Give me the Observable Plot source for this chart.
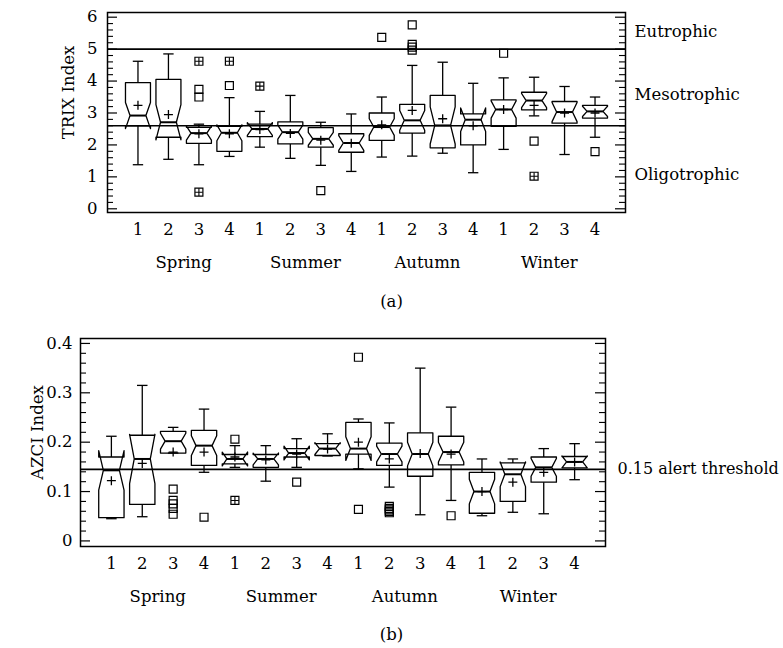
<!DOCTYPE html>
<html><head><meta charset="utf-8">
<script src="https://cdn.jsdelivr.net/npm/d3@7"></script>
<script src="https://cdn.jsdelivr.net/npm/@observablehq/plot@0.6"></script>
<style>
body{margin:0;background:#fff;}
#wrap{position:relative;width:783px;height:648px;font-family:"DejaVu Serif",serif;}
.cap{position:absolute;left:0;width:783px;text-align:center;font-size:16.5px;line-height:20px;color:#000;}
#wrap svg{position:absolute;left:0;}
</style></head><body><div id="wrap"></div>
<script>
// categories / tick labels
const seasons = ["Spring","Summer","Autumn","Winter"];
const sites = ["1","2","3","4"];

// (a) TRIX index, 16 boxes (season x site)
const trixLow   = [1.38,1.55,1.38,1.64,1.93,1.58,1.36,1.17,1.62,1.65,1.74,1.13,1.86,2.91,1.70,2.24];
const trixQ1    = [2.60,2.24,2.05,1.80,2.26,2.03,1.93,1.77,2.14,2.37,1.91,2.00,2.58,3.10,2.68,2.84];
const trixMed   = [2.92,2.71,2.37,2.38,2.50,2.40,2.19,2.06,2.56,2.77,2.61,2.79,3.11,3.39,3.03,3.05];
const trixQ3    = [3.95,4.05,2.55,2.58,2.65,2.72,2.54,2.35,3.00,3.27,3.55,2.97,3.41,3.65,3.36,3.24];
const trixHigh  = [4.62,4.85,2.65,3.48,3.05,3.55,2.71,2.97,3.50,4.49,4.59,3.93,4.10,4.12,3.83,3.50];
const trixMean  = [3.24,2.95,2.35,2.35,2.48,2.36,2.15,2.05,2.63,3.08,2.82,2.60,3.11,3.24,3.00,3.00];
const trixNotch = [0.41,0.55,0.22,0.25,0.20,0.22,0.20,0.23,0.26,0.31,0.58,0.37,0.27,0.22,0.30,0.16];
// outliers: [box index, value, crossed marker]
const trixOutliers = [[2,4.62,1],[2,3.74,0],[2,3.50,0],[2,0.52,1],[3,4.62,1],[3,3.86,0],[4,3.84,1],
  [6,0.57,0],[8,5.37,0],[9,5.76,0],[9,5.15,0],[9,5.06,0],[9,4.97,0],[12,4.87,0],[13,2.12,0],[13,1.02,1],[15,1.79,0]];
const trixRefs = [5, 2.6];
const trixZones = ["Eutrophic","Mesotrophic","Oligotrophic"];
const trixZoneY = [5.54, 3.56, 1.07];
const trixTicks = [0,1,2,3,4,5,6];

// (b) AZCI index
const azciLow   = [0.045,0.049,0.178,0.139,0.149,0.121,0.149,0.172,0.146,0.109,0.053,0.082,0.051,0.058,0.055,0.124];
const azciQ1    = [0.047,0.074,0.178,0.153,0.156,0.149,0.170,0.173,0.176,0.153,0.131,0.154,0.056,0.080,0.119,0.148];
const azciMed   = [0.143,0.166,0.202,0.193,0.166,0.166,0.178,0.187,0.187,0.176,0.176,0.180,0.100,0.135,0.149,0.160];
const azciQ3    = [0.170,0.214,0.222,0.224,0.175,0.175,0.187,0.197,0.240,0.198,0.219,0.212,0.139,0.158,0.170,0.171];
const azciHigh  = [0.212,0.315,0.230,0.267,0.193,0.193,0.207,0.217,0.247,0.239,0.350,0.271,0.166,0.166,0.187,0.197];
const azciMean  = [0.122,0.157,0.180,0.180,0.170,0.164,0.176,0.186,0.200,0.166,0.177,0.176,0.100,0.119,0.139,0.160];
const azciNotch = [0.040,0.050,0.016,0.020,0.014,0.012,0.014,0.012,0.024,0.016,0.024,0.020,0.025,0.025,0.018,0.012];
const azciOutliers = [[2,0.105,0],[2,0.082,0],[2,0.075,0],[2,0.066,0],[2,0.054,0],[3,0.048,0],[4,0.206,0],[4,0.082,1],
  [6,0.119,0],[8,0.372,0],[8,0.064,0],[9,0.070,0],[9,0.066,0],[9,0.063,0],[9,0.060,0],[9,0.057,0],[11,0.051,0]];
const azciRefs = [0.145];
const azciRefLabels = ["0.15 alert threshold"];
const azciTicks = [0,0.1,0.2,0.3,0.4];

function panel(o) {
  const n = o.low.length, idx = d3.range(n);
  const hw = 0.41, iw = 0.26, cap = 0.17;
  const verts = idx.flatMap(i => {
    const m = o.med[i], hi = m + o.notch[i], lo = m - o.notch[i];
    return [[i-hw,o.q3[i]],[i-hw,hi],[i-iw,m],[i-hw,lo],[i-hw,o.q1[i]],[i+hw,o.q1[i]],[i+hw,lo],[i+iw,m],[i+hw,hi],[i+hw,o.q3[i]],[i-hw,o.q3[i]]]
      .map(([x,y]) => ({box:i, x, y}));
  });
  const fw = o.width - o.mL - o.mR;
  const k = "black";
  return Plot.plot({
    width: o.width, height: o.height,
    marginLeft: o.mL, marginRight: o.mR, marginTop: o.mT, marginBottom: o.mB,
    x: {domain: [-1, 16], axis: null},
    y: {domain: o.yDomain, axis: null},
    style: {fontFamily: "'DejaVu Serif', serif", fontSize: "16.5px", color: "black", background: "white", overflow: "visible"},
    marks: [
      Plot.ruleY(o.refs, {stroke: k, strokeWidth: 1.6}),
      Plot.frame({stroke: k, strokeWidth: 1.5}),
      Plot.ruleY(o.major, {insetRight: fw - 10, stroke: k, strokeWidth: 1.2}),
      Plot.ruleY(o.major, {insetLeft: fw - 10, stroke: k, strokeWidth: 1.2}),
      Plot.ruleY(o.minor, {insetRight: fw - 6, stroke: k, strokeWidth: 1.1}),
      Plot.ruleY(o.minor, {insetLeft: fw - 6, stroke: k, strokeWidth: 1.1}),
      Plot.axisY({ticks: o.major, tickSize: 0, tickPadding: o.yPad, tickFormat: o.yFormat, label: null, fontSize: 16.5}),
      Plot.axisX({ticks: idx, tickSize: 0, tickPadding: 11, tickFormat: i => sites[i % 4], label: null, fontSize: 16.5}),
      Plot.axisX({ticks: seasons.map((s, j) => j * 4 + 1.5), tickSize: 0, tickPadding: 44, tickFormat: d => seasons[(d - 1.5) / 4], label: null, fontSize: 16.5}),
      Plot.line(verts, {x: "x", y: "y", z: "box", stroke: k, strokeWidth: 1.3}),
      Plot.link(idx, {x1: i => i - iw, x2: i => i + iw, y1: i => o.med[i], y2: i => o.med[i], stroke: k, strokeWidth: 2}),
      Plot.link(idx, {x1: i => i, x2: i => i, y1: i => o.q3[i], y2: i => o.high[i], stroke: k, strokeWidth: 1.3}),
      Plot.link(idx, {x1: i => i, x2: i => i, y1: i => o.q1[i], y2: i => o.low[i], stroke: k, strokeWidth: 1.3}),
      Plot.link(idx, {x1: i => i - cap, x2: i => i + cap, y1: i => o.high[i], y2: i => o.high[i], stroke: k, strokeWidth: 1.3}),
      Plot.link(idx, {x1: i => i - cap, x2: i => i + cap, y1: i => o.low[i], y2: i => o.low[i], stroke: k, strokeWidth: 1.3}),
      Plot.dot(idx, {x: i => i, y: i => o.mean[i], symbol: "plus", r: 3.0, stroke: k, strokeWidth: 1.3}),
      Plot.dot(o.outliers, {x: d => d[0], y: d => d[1], symbol: "square", r: 4.5, fill: "none", stroke: k, strokeWidth: 1.2}),
      Plot.dot(o.outliers.filter(d => d[2]), {x: d => d[0], y: d => d[1], symbol: "plus", r: 2.6, stroke: k, strokeWidth: 1.1}),
      Plot.text(o.refLabels, {y: (d, i) => o.refLabelY[i], text: d => d, frameAnchor: "right", dx: o.refDx, textAnchor: "start", fill: k, fontSize: o.refFont}),
      Plot.text([o.yLabel], {text: d => d, frameAnchor: "left", rotate: -90, dx: o.yLabelDx, dy: o.yLabelDy, textAnchor: "middle", lineAnchor: "middle", fill: k, fontSize: 16.5})
    ]
  });
}

const wrap = document.getElementById("wrap");

const a = panel({
  low: trixLow, q1: trixQ1, med: trixMed, q3: trixQ3, high: trixHigh, mean: trixMean, notch: trixNotch, outliers: trixOutliers,
  yDomain: [-0.116, 6.147], major: trixTicks, minor: d3.range(0, 6.01, 0.2).filter(v => Math.abs(v - Math.round(v)) > 1e-6),
  yFormat: d => String(d), yPad: 10,
  refs: trixRefs, refLabels: trixZones, refLabelY: trixZoneY, refDx: 9, refFont: 16.5,
  yLabel: "TRIX Index", yLabelDx: -39, yLabelDy: -20,
  width: 783, height: 280, mL: 107, mR: 158, mT: 12, mB: 68
});
a.style.top = "0px";
wrap.appendChild(a);

const capA = document.createElement("div");
capA.className = "cap"; capA.style.top = "292px"; capA.textContent = "(a)";
wrap.appendChild(capA);

const b = panel({
  low: azciLow, q1: azciQ1, med: azciMed, q3: azciQ3, high: azciHigh, mean: azciMean, notch: azciNotch, outliers: azciOutliers,
  yDomain: [-0.0113, 0.41], major: azciTicks, minor: d3.range(0, 0.401, 0.02).filter(v => Math.abs(v * 10 - Math.round(v * 10)) > 1e-6),
  yFormat: d => d === 0 ? "0" : d.toFixed(1), yPad: 8,
  refs: azciRefs, refLabels: azciRefLabels, refLabelY: azciRefs, refDx: 12, refFont: 16,
  yLabel: "AZCI Index", yLabelDx: -43, yLabelDy: -10,
  width: 783, height: 284, mL: 80, mR: 178, mT: 12, mB: 64
});
b.style.top = "326px";
wrap.appendChild(b);

const capB = document.createElement("div");
capB.className = "cap"; capB.style.top = "625px"; capB.textContent = "(b)";
wrap.appendChild(capB);
</script>
</body></html>
